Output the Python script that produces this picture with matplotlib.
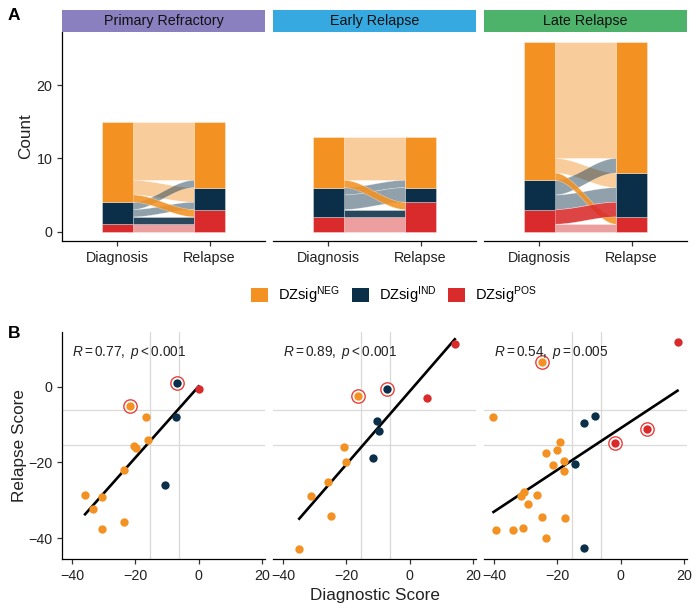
import numpy as np
import matplotlib
matplotlib.use('Agg')
import matplotlib.pyplot as plt
from matplotlib.patches import Rectangle, Polygon, Patch
from matplotlib.colors import to_rgba

plt.rcParams['font.family'] = ['Liberation Sans', 'DejaVu Sans']
plt.rcParams['mathtext.fontset'] = 'custom'
plt.rcParams['mathtext.rm'] = 'Liberation Sans'
plt.rcParams['mathtext.it'] = 'Liberation Sans:italic'
plt.rcParams['mathtext.bf'] = 'Liberation Sans:bold'

# ---------------- data ----------------
cohorts = ['Primary Refractory', 'Early Relapse', 'Late Relapse']
strip_colors = ['#8A80C0', '#36A9E1', '#4DB36B']
categories = ['NEG', 'IND', 'POS']          # top to bottom in the stack
cat_colors = {'NEG': '#F39223', 'IND': '#0B2F48', 'POS': '#D92B2B'}
timepoints = ['Diagnosis', 'Relapse']

# alluvial flows (Diagnosis category -> Relapse category, count)
flow_from = ['NEG', 'NEG', 'NEG', 'IND', 'IND', 'IND', 'POS', 'POS', 'POS']
flow_to = ['NEG', 'IND', 'POS', 'NEG', 'IND', 'POS', 'NEG', 'IND', 'POS']
flows_primary = [8, 2, 1, 1, 1, 1, 0, 0, 1]
flows_early = [6, 0, 1, 1, 2, 1, 0, 0, 2]
flows_late = [16, 2, 1, 2, 2, 0, 0, 2, 1]
flows_all = [flows_primary, flows_early, flows_late]

# scatter: diagnostic score, relapse score, diagnosis group, circled
dx_primary = [-21.7, -6.8, 0.0, -7.3, -16.5, -16.0, -20.5, -19.9, -23.5, -10.7,
              -35.9, -30.4, -33.4, -23.6, -30.7]
rx_primary = [-5.0, 0.9, -0.6, -8.1, -8.1, -14.0, -15.8, -16.3, -22.0, -26.1,
              -28.6, -29.2, -32.2, -35.8, -37.6]
grp_primary = ['NEG', 'IND', 'POS', 'IND', 'NEG', 'NEG', 'NEG', 'NEG', 'NEG', 'IND',
               'NEG', 'NEG', 'NEG', 'NEG', 'NEG']
ring_primary = [1, 1, 0, 0, 0, 0, 0, 0, 0, 0, 0, 0, 0, 0, 0]

dx_early = [14.3, -7.3, -16.3, 5.6, -10.4, -9.6, -20.6, -20.1, -11.5, -25.8,
            -31.3, -24.9, -34.9]
rx_early = [11.1, -0.7, -2.6, -2.9, -9.2, -11.8, -16.0, -20.0, -18.9, -25.3,
            -28.9, -34.2, -42.8]
grp_early = ['POS', 'IND', 'NEG', 'POS', 'IND', 'IND', 'NEG', 'NEG', 'IND', 'NEG',
             'NEG', 'NEG', 'NEG']
ring_early = [0, 1, 1, 0, 0, 0, 0, 0, 0, 0, 0, 0, 0]

dx_late = [18.0, -24.8, -40.2, -8.2, -11.7, 8.4, -1.7, -19.1, -20.0, -23.6,
           -17.9, -21.5, -14.3, -18.0, -30.5, -31.6, -26.5, -29.3, -24.8, -17.5,
           -39.3, -34.1, -30.9, -23.6, -11.5]
rx_late = [11.7, 6.6, -8.1, -7.7, -9.6, -11.3, -15.0, -14.7, -16.8, -17.4,
           -19.6, -20.8, -20.5, -22.4, -27.9, -29.0, -28.7, -30.9, -34.4, -34.6,
           -37.9, -37.9, -37.3, -39.9, -42.5]
grp_late = ['POS', 'NEG', 'NEG', 'IND', 'IND', 'POS', 'POS', 'NEG', 'NEG', 'NEG',
            'NEG', 'NEG', 'IND', 'NEG', 'NEG', 'NEG', 'NEG', 'NEG', 'NEG', 'NEG',
            'NEG', 'NEG', 'NEG', 'NEG', 'IND']
ring_late = [0, 1, 0, 0, 0, 1, 1, 0, 0, 0, 0, 0, 0, 0, 0, 0, 0, 0, 0, 0, 0, 0, 0, 0, 0]

stat_labels = [r'$R = 0.77,\ p < 0.001$', r'$R = 0.89,\ p < 0.001$',
               r'$R = 0.54,\ p = 0.005$']
cutoffs = [-15.3, -6.3]

scatter_sets = [(dx_primary, rx_primary, grp_primary, ring_primary),
                (dx_early, rx_early, grp_early, ring_early),
                (dx_late, rx_late, grp_late, ring_late)]

legend_labels = [r'DZsig$^{\mathregular{NEG}}$', r'DZsig$^{\mathregular{IND}}$',
                 r'DZsig$^{\mathregular{POS}}$']

# ---------------- figure ----------------
W, H = 700, 611
fig = plt.figure(figsize=(W / 100, H / 100), dpi=100)


def fx(px):
    return px / W


def fy(py):
    return 1 - py / H


panel_x = [(62, 265), (273, 476), (484, 687)]
TXT = '#222222'
TICK_FS = 10.3
LAB_FS = 12.3


def draw_alluvial(ax, flows):
    w = 1 / 3
    idx = {(a, b): i for i, (a, b) in enumerate(zip(flow_from, flow_to))}
    bottom_up = categories[::-1]
    left_tot = {c: sum(f for f, a in zip(flows, flow_from) if a == c) for c in categories}
    right_tot = {c: sum(f for f, b in zip(flows, flow_to) if b == c) for c in categories}
    left_pos, right_pos = {}, {}
    y = 0
    for a in bottom_up:
        for b in bottom_up:
            i = idx[(a, b)]
            left_pos[i] = (y, y + flows[i])
            y += flows[i]
    y = 0
    for b in bottom_up:
        for a in bottom_up:
            i = idx[(a, b)]
            right_pos[i] = (y, y + flows[i])
            y += flows[i]
    xa, xb = 1 + w / 2, 2 - w / 2
    t = np.linspace(0, 1, 80)
    s = t * t * (3 - 2 * t)
    xs = xa + (xb - xa) * t
    for highlight_pass in (False, True):
        for i, f in enumerate(flows):
            if f == 0:
                continue
            a, b = flow_from[i], flow_to[i]
            hl = (a != b) and ('POS' in (a, b))
            if hl != highlight_pass:
                continue
            l0, l1 = left_pos[i]
            r0, r1 = right_pos[i]
            lo = l0 + (r0 - l0) * s
            hi = l1 + (r1 - l1) * s
            poly = np.concatenate([np.c_[xs, lo], np.c_[xs[::-1], hi[::-1]]])
            alpha = 0.88 if hl else 0.45
            ax.add_patch(Polygon(poly, closed=True, fc=to_rgba(cat_colors[a], alpha),
                                 ec=(1, 1, 1, 0.5), lw=0.4, zorder=2))
    for xc, tot in ((1, left_tot), (2, right_tot)):
        y = 0
        for c in bottom_up:
            if tot[c] > 0:
                ax.add_patch(Rectangle((xc - w / 2, y), w, tot[c], fc=cat_colors[c],
                                       ec=(1, 1, 1, 0.6), lw=0.4, zorder=3))
            y += tot[c]


# ---------- Panel A ----------
for k, cohort in enumerate(cohorts):
    x0, x1 = panel_x[k]
    ax = fig.add_axes([fx(x0), fy(241), fx(x1 - x0), fy(32) - fy(241)])
    draw_alluvial(ax, flows_all[k])
    ax.set_xlim(0.4, 2.6)
    ax.set_ylim(-1.3, 27.3)
    ax.set_xticks([1, 2])
    ax.set_xticklabels(timepoints, fontsize=TICK_FS, color=TXT)
    for sp in ('top', 'right'):
        ax.spines[sp].set_visible(False)
    ax.spines['bottom'].set_linewidth(0.9)
    ax.spines['left'].set_linewidth(0.9)
    ax.tick_params(length=3.5, width=0.9, colors='#333333', labelcolor=TXT, labelsize=TICK_FS)
    if k == 0:
        ax.set_yticks([0, 10, 20])
        ax.set_ylabel('Count', fontsize=LAB_FS, color=TXT, labelpad=2)
    else:
        ax.spines['left'].set_visible(False)
        ax.set_yticks([])
    # strip
    sax = fig.add_axes([fx(x0), fy(32), fx(x1 - x0), fy(10) - fy(32)])
    sax.set_xticks([])
    sax.set_yticks([])
    sax.set_facecolor(strip_colors[k])
    for sp in sax.spines.values():
        sp.set_visible(False)
    sax.text(0.5, 0.5, cohort, ha='center', va='center', fontsize=TICK_FS, color='#111111',
             transform=sax.transAxes)

fig.text(fx(8), fy(15), 'A', fontsize=12.5, fontweight='bold', ha='left', va='center')
fig.text(fx(8), fy(333), 'B', fontsize=12.5, fontweight='bold', ha='left', va='center')

# legend
handles = [Patch(fc=cat_colors[c], ec='none') for c in categories]
fig.legend(handles, legend_labels, loc='center', bbox_to_anchor=(fx(394), fy(295)),
           ncol=3, frameon=False, fontsize=10.5, handlelength=1.15, handleheight=1.15,
           handletextpad=0.7, columnspacing=0.8)

# ---------- Panel B ----------
for k in range(3):
    x0, x1 = panel_x[k]
    ax = fig.add_axes([fx(x0), fy(559), fx(x1 - x0), fy(331.6) - fy(559)])
    dx, rx, grp, ring = scatter_sets[k]
    dx = np.array(dx)
    rx = np.array(rx)
    for c in cutoffs:
        ax.axvline(c, color='#D9D9D9', lw=0.9, zorder=0)
        ax.axhline(c, color='#D9D9D9', lw=0.9, zorder=0)
    slope, inter = np.polyfit(dx, rx, 1)
    xl = np.array([dx.min(), dx.max()])
    ax.plot(xl, slope * xl + inter, color='black', lw=1.9, zorder=2)
    for xi, yi, g, r in zip(dx, rx, grp, ring):
        if r:
            ax.plot(xi, yi, 'o', ms=9.6, mfc='white', mec='#E8403A', mew=1.0, zorder=3)
        ax.plot(xi, yi, 'o', ms=6.0, mfc=cat_colors[g], mec='none', zorder=4)
    ax.text(-40, 9, stat_labels[k], ha='left', va='center', fontsize=9.8, color=TXT)
    ax.set_xlim(-43.2, 21)
    ax.set_ylim(-45.5, 14.5)
    ax.set_xticks([-40, -20, 0, 20])
    for sp in ('top', 'right'):
        ax.spines[sp].set_visible(False)
    ax.spines['bottom'].set_linewidth(0.9)
    ax.spines['left'].set_linewidth(0.9)
    ax.tick_params(length=3.5, width=0.9, colors='#333333', labelcolor=TXT, labelsize=TICK_FS)
    if k == 0:
        ax.set_yticks([-40, -20, 0])
        ax.set_ylabel('Relapse Score', fontsize=LAB_FS, color=TXT, labelpad=1)
    else:
        ax.spines['left'].set_visible(False)
        ax.set_yticks([])
    if k == 1:
        ax.set_xlabel('Diagnostic Score', fontsize=LAB_FS, color=TXT, labelpad=4)

fig.savefig('out.png', dpi=100)
